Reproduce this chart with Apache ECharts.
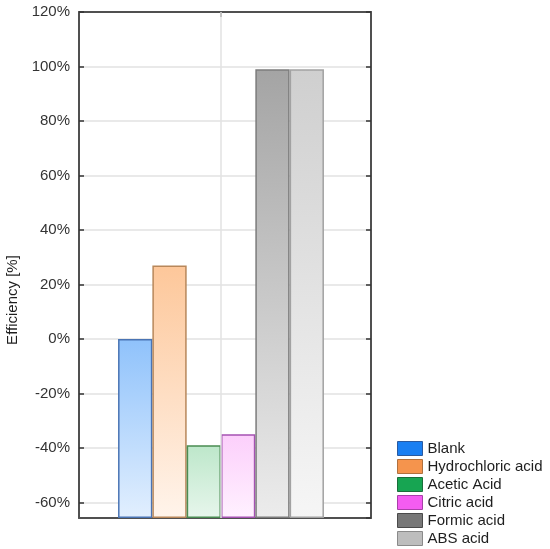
<!DOCTYPE html>
<html>
<head>
<meta charset="utf-8">
<script src="https://cdn.jsdelivr.net/npm/echarts@6/dist/echarts.min.js"></script>
<style>html,body{margin:0;padding:0;background:#fff;}#c{width:550px;height:549px;}</style>
</head>
<body>
<div id="c"></div>
<script>
const categories = ['Blank', 'Hydrochloric acid', 'Acetic Acid', 'Citric acid', 'Formic acid', 'ABS acid'];
const efficiency = [0, 27, -39, -35, 99, 99];
const yMin = -65.7;
const yMax = 120;
const yStep = 20;
const yAxisTitle = 'Efficiency [%]';

const topColors = ['#8fc2fb', '#fdc79a', '#bde7ca', '#fccffb', '#a4a4a4', '#cfcfcf'];
const bottomColors = ['#e2effe', '#fff4eb', '#e7f6ec', '#fff1ff', '#ececec', '#f6f6f6'];
const borderColors = ['#4a74b4', '#b8875a', '#4a8c52', '#a552b2', '#7c7c7c', '#a2a2a2'];
const legendColors = ['#1a7ff2', '#f5944d', '#17a552', '#f45cf1', '#777777', '#bdbdbd'];
const legendBorders = ['#2a5aa0', '#b0703e', '#1a6e3a', '#a840a8', '#4a4a4a', '#8a8a8a'];

const FONT = '"Liberation Sans", Arial, sans-serif';
const AXIS = '#505050';

const chart = echarts.init(document.getElementById('c'), null, {renderer: 'canvas'});

const barSeries = categories.map((name, i) => ({
  name: name,
  type: 'bar',
  xAxisIndex: 2,
  yAxisIndex: 2,
  data: [efficiency[i]],
  barGap: '0%',
  barCategoryGap: '27.5%',
  z: 2,
  itemStyle: {
    color: new echarts.graphic.LinearGradient(0, 0, 0, 1, [
      {offset: 0, color: topColors[i]},
      {offset: 1, color: bottomColors[i]}
    ]),
    borderColor: borderColors[i],
    borderWidth: 1.5
  }
}));

const option = {
  animation: false,
  backgroundColor: '#fff',
  textStyle: {fontFamily: FONT},
  grid: [
    {left: 79, right: 179, top: 12, bottom: 31, outerBoundsMode: 'none'},
    {left: 79, right: 187, top: 12, bottom: 31, outerBoundsMode: 'none'}
  ],
  legend: {
    orient: 'vertical',
    left: 397,
    top: 441,
    padding: 0,
    itemWidth: 25,
    itemHeight: 14,
    itemGap: 3,
    icon: 'rect',
    textStyle: {fontSize: 15, lineHeight: 15, color: '#1e1e1e', fontFamily: FONT},
    data: categories.map((name, i) => ({
      name: name,
      itemStyle: {color: legendColors[i], borderColor: legendBorders[i], borderWidth: 1}
    }))
  },
  xAxis: [
    {gridIndex: 0, type: 'category', data: [''], position: 'bottom',
     axisLine: {show: true, onZero: false, lineStyle: {color: AXIS, width: 2}},
     axisTick: {show: false}, axisLabel: {show: false}, splitLine: {show: false}},
    {gridIndex: 0, type: 'category', data: [''], position: 'top',
     axisLine: {show: true, onZero: false, lineStyle: {color: AXIS, width: 2}},
     axisTick: {show: false}, axisLabel: {show: false}, splitLine: {show: false}},
    {gridIndex: 1, type: 'category', data: [''], position: 'bottom',
     axisLine: {show: false, onZero: false},
     axisTick: {show: true, inside: true, alignWithLabel: true, length: 5, lineStyle: {color: '#333', width: 1.5}},
     axisLabel: {show: false}, splitLine: {show: false}},
    {gridIndex: 1, type: 'category', data: [''], position: 'top',
     axisLine: {show: false, onZero: false},
     axisTick: {show: true, inside: true, alignWithLabel: true, length: 5, lineStyle: {color: '#333', width: 1.5}},
     axisLabel: {show: false}, splitLine: {show: false}}
  ],
  yAxis: [
    {gridIndex: 0, type: 'value', min: yMin, max: yMax, minInterval: yStep, maxInterval: yStep, splitNumber: 9,
     position: 'left',
     name: yAxisTitle, nameLocation: 'middle', nameGap: 56,
     nameTextStyle: {fontSize: 15, color: '#1e1e1e', fontFamily: FONT, padding: [0, 70, 0, 0]},
     axisLine: {show: true, onZero: false, lineStyle: {color: AXIS, width: 2}},
     axisTick: {show: true, inside: true, length: 5, lineStyle: {color: '#333', width: 1.5}},
     axisLabel: {show: true, formatter: '{value}%', fontSize: 15, color: '#333', margin: 9,
                 showMinLabel: false, fontFamily: FONT},
     splitLine: {show: true, lineStyle: {color: '#e2e2e2', width: 1.5}}},
    {gridIndex: 0, type: 'value', min: yMin, max: yMax, minInterval: yStep, maxInterval: yStep, splitNumber: 9,
     position: 'right',
     axisLine: {show: true, onZero: false, lineStyle: {color: AXIS, width: 2}},
     axisTick: {show: true, inside: true, length: 5, lineStyle: {color: '#333', width: 1.5}},
     axisLabel: {show: false}, splitLine: {show: false}},
    {gridIndex: 1, type: 'value', min: yMin, max: yMax, startValue: yMin, show: false}
  ],
  series: [
    {type: 'line', xAxisIndex: 2, yAxisIndex: 2, data: [], z: 1, silent: true,
     markLine: {silent: true, symbol: ['none', 'none'], label: {show: false},
                lineStyle: {color: '#e2e2e2', width: 1.5, type: 'solid'},
                data: [{xAxis: 0}]}}
  ].concat(barSeries)
};

chart.setOption(option);
</script>
</body>
</html>
